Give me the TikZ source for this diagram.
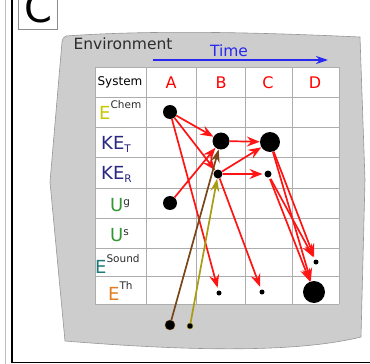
\documentclass[tikz,border=0pt]{standalone}
\usepackage{fontspec}
\setmainfont{DejaVu Sans}
\usepackage{xcolor}
\usetikzlibrary{arrows.meta,positioning,calc}

\definecolor{envgray}{RGB}{205,205,205}
\definecolor{envline}{RGB}{150,150,150}
\definecolor{labdark}{RGB}{45,45,45}
\definecolor{echem}{RGB}{200,200,0}
\definecolor{kecol}{RGB}{40,40,130}
\definecolor{ucol}{RGB}{50,150,50}
\definecolor{sndcol}{RGB}{30,120,120}
\definecolor{thcol}{RGB}{225,125,35}
\definecolor{brn}{RGB}{120,70,25}
\definecolor{olv}{RGB}{170,155,20}
\definecolor{timeblue}{RGB}{40,40,240}
\definecolor{flowred}{RGB}{255,20,20}

% raised / lowered small text next to a row label
\newcommand{\rsup}[2]{\raisebox{#1}{\fontsize{10.5}{10.5}\selectfont\color{labdark}#2}}
\newcommand{\rsub}[2]{\raisebox{#1}{\fontsize{10.5}{10.5}\selectfont #2}}

\begin{document}
\begin{tikzpicture}[x=1pt,y=-1pt,
    dot/.style={circle, fill=black, inner sep=0pt},
    small dot/.style={dot, minimum size=5pt, outer sep=3pt},
    flow/.style={flowred, line width=1.7pt, -{Stealth[length=13pt,width=10pt,inset=4.5pt]}},
    feed/.style={line width=1.7pt, -{Stealth[length=13pt,width=9pt,inset=4.5pt]}},
    colhead/.style={text=red, font=\fontsize{16}{16}\selectfont, inner sep=0pt},
    rowlab/.style={anchor=base west, inner sep=0pt, font=\fontsize{18}{18}\selectfont},
    grid line/.style={black!32, line width=0.9pt}]

    \useasboundingbox (0,0) rectangle (370,364);
    \clip (0,0) rectangle (370,364);

    % Frame
    \draw[black!25, line width=0.8pt] (5,0) -- (5,364);
    \draw[black, line width=1.4pt] (12,0) -- (12,362.5) -- (370,362.5);
    \draw[black!45, line width=0.8pt] (18,-2) rectangle (57,29);
    \node[anchor=base west, inner sep=0pt, font=\fontsize{40}{40}\selectfont] (panel) at (24,22) {C};

    % Environment
    \draw[envline, fill=envgray, line width=0.6pt] (66,36) .. controls (150,30) and (250,32) .. (360,37)
        -- (365,180) -- (361,337) .. controls (300,352) and (200,352) .. (65,341)
        -- (50,182) -- (62,42) .. controls (63,38) .. cycle;
    \node[text=labdark, font=\fontsize{15.5}{15.5}\selectfont, inner sep=0pt] (env) at (123,44) {Environment};

    % Time
    \node[text=timeblue, font=\fontsize{15.5}{15.5}\selectfont, inner sep=0pt] (time) at (229,51) {Time};
    \coordinate (tStart) at (153,60);
    \coordinate (tEnd) at (328,60);
    \draw[timeblue, line width=1.6pt, -{Stealth[length=12pt,width=8pt]}] (tStart) -- (tEnd);

    % Table
    \fill[white] (95,67) rectangle (339,304);
    \foreach \x in {95,146,196,245,292,339}
        \draw[grid line] (\x,67) -- (\x,304);
    \foreach \y in {67,97,127,157,188,218,248,276,304}
        \draw[grid line] (95,\y) -- (339,\y);

    % Column heads
    \node[inner sep=0pt, font=\fontsize{12}{12}\selectfont] (sys) at (120,82) {System};
    \node[colhead] (colA) at (171,83) {A};
    \node[colhead] (colB) at (221,83) {B};
    \node[colhead] (colC) at (268,83) {C};
    \node[colhead] (colD) at (315,83) {D};

    % Row labels
    \node[rowlab, text=echem] (lChem) at (99,119) {E\rsup{11pt}{Chem}};
    \node[rowlab, text=kecol] (lKT) at (101,149) {KE\rsub{-3pt}{T}};
    \node[rowlab, text=kecol] (lKR) at (101,179) {KE\rsub{-3pt}{R}};
    \node[rowlab, text=ucol] (lUg) at (110,211) {U\rsup{6pt}{g}};
    \node[rowlab, text=ucol] (lUs) at (110,241) {U\rsup{6pt}{s}};
    \node[rowlab, text=sndcol] (lSo) at (95,273) {E\rsup{11pt}{Sound}};
    \node[rowlab, text=thcol] (lTh) at (108,300) {E\rsup{11pt}{Th}};

    % Energy dots
    \node[dot, minimum size=14pt] (aChem) at (170,112) {};
    \node[dot, minimum size=14pt] (aUg) at (170,203) {};
    \node[dot, minimum size=17pt] (bKT) at (221,141) {};
    \node[dot, minimum size=20pt] (cKT) at (270,142) {};
    \node[dot, minimum size=9pt] (bKR) at (218,174) {};
    \node[dot, minimum size=7pt, outer sep=2pt] (cKR) at (268,174) {};
    \node[small dot] (dSo) at (316,262) {};
    \node[small dot] (bTh) at (219,293) {};
    \node[small dot] (cTh) at (262,292) {};
    \node[dot, minimum size=22pt] (dTh) at (314,292) {};
    \node[dot, draw=brn, minimum size=10pt] (brSrc) at (170,325) {};
    \node[dot, draw=olv, minimum size=6pt] (olSrc) at (190,326) {};

    % Transfers
    \draw[flow] (aChem) -- (bKT);
    \draw[flow] (aChem) -- (bKR);
    \draw[flow] (aChem) -- (bTh);
    \draw[flow] (aUg) -- (bKT);
    \draw[flow] (bKT) -- (cKT);
    \draw[flow] (bKR) -- (cKT);
    \draw[flow] (bKR) -- (cKR);
    \draw[flow] (bKR) -- (cTh);
    \draw[flow] (cKT) -- (dSo);
    \draw[flow] (cKT) -- (dTh);
    \draw[flow] (cKR) -- (dSo);
    \draw[flow] (cKR) -- (dTh);

    % Input from outside
    \draw[feed, brn] (brSrc) -- (bKT);
    \draw[feed, olv] (olSrc) -- (bKR);

\end{tikzpicture}
\end{document}
